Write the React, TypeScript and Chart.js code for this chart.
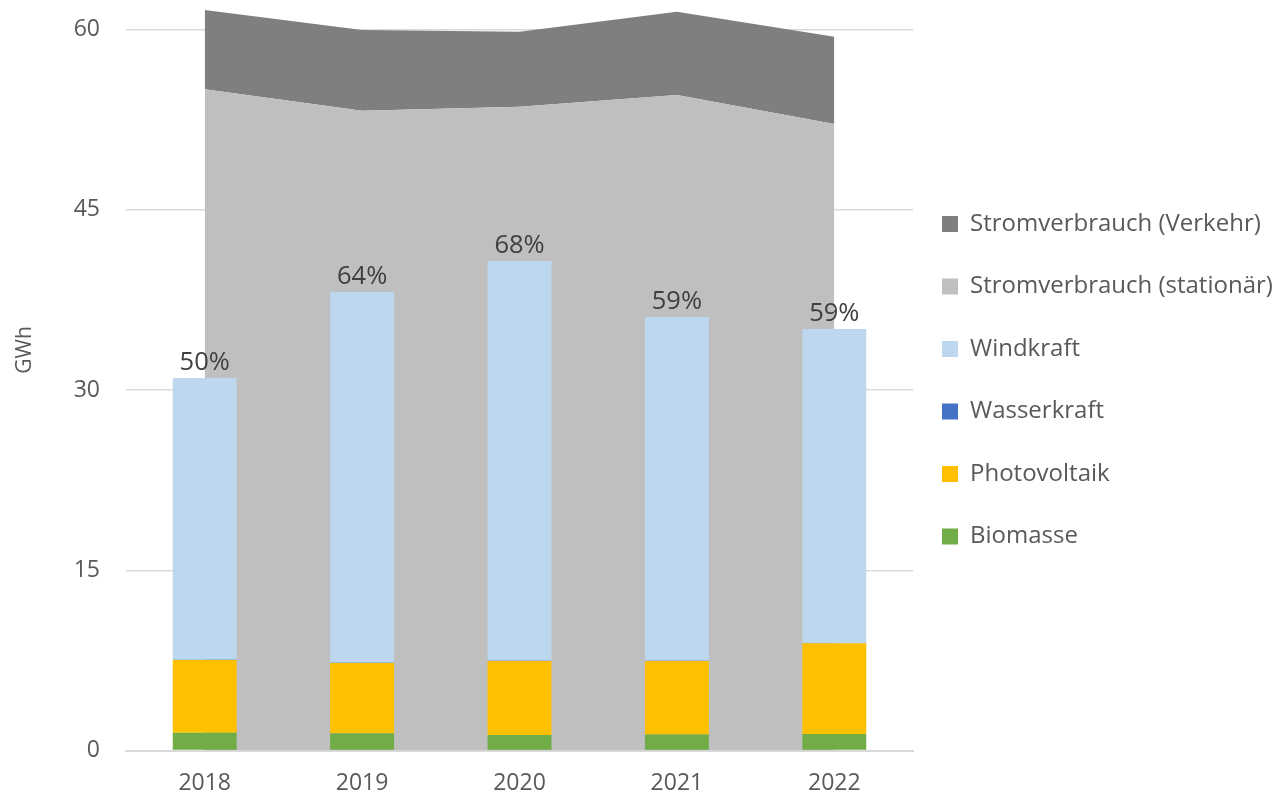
import React, { useEffect, useRef } from "react";
import { Chart, registerables } from "chart.js";

Chart.register(...registerables);

const years = ["2018", "2019", "2020", "2021", "2022"];
const biomasse = [1.48, 1.43, 1.29, 1.33, 1.37];
const photovoltaik = [6.05, 5.85, 6.16, 6.12, 7.55];
const wasserkraft = [0.02, 0.02, 0.02, 0.02, 0.02];
const windkraft = [23.46, 30.87, 33.28, 28.61, 26.15];
const verbrauchStationaer = [55.04, 53.26, 53.59, 54.57, 52.15];
const verbrauchVerkehr = [6.6, 6.72, 6.25, 6.93, 7.27];
const anteilLabels = ["50%", "64%", "68%", "59%", "59%"];
const yTicks = [0, 15, 30, 45, 60];
const yTitle = "GWh";

const FONT = "'Open Sans', 'Noto Sans', sans-serif";

const percentPlugin = {
  id: "percentLabels",
  afterDatasetsDraw(chart: any) {
    const meta = chart.getDatasetMeta(3);
    const ctx = chart.ctx;
    ctx.save();
    ctx.font = `25.5px ${FONT}`;
    ctx.fillStyle = "#404040";
    ctx.textAlign = "center";
    ctx.textBaseline = "alphabetic";
    meta.data.forEach((bar: any, i: number) => {
      ctx.fillText(anteilLabels[i], bar.x, bar.y - 8);
    });
    ctx.restore();
  },
};

const yTitlePlugin = {
  id: "yTitle",
  afterDraw(chart: any) {
    const ctx = chart.ctx;
    ctx.save();
    ctx.translate(25.5, 350);
    ctx.rotate(-Math.PI / 2);
    ctx.font = `21px ${FONT}`;
    ctx.fillStyle = "#595959";
    ctx.textAlign = "center";
    ctx.textBaseline = "middle";
    ctx.fillText(yTitle, 0, 0);
    ctx.restore();
  },
};

export default function App() {
  const ref = useRef<HTMLCanvasElement>(null);

  useEffect(() => {
    document.body.style.margin = "0";
    const canvas = ref.current!;
    const chart = new Chart(canvas, {
      type: "bar",
      data: {
        labels: years,
        datasets: [
          { type: "bar", label: "Biomasse", data: biomasse, backgroundColor: "#70ad47", stack: "bars", order: 1 },
          { type: "bar", label: "Photovoltaik", data: photovoltaik, backgroundColor: "#ffc000", stack: "bars", order: 1 },
          { type: "bar", label: "Wasserkraft", data: wasserkraft, backgroundColor: "#4472c4", stack: "bars", order: 1 },
          { type: "bar", label: "Windkraft", data: windkraft, backgroundColor: "#bdd7ee", stack: "bars", order: 1 },
          {
            type: "line",
            label: "Stromverbrauch (stationär)",
            data: verbrauchStationaer,
            backgroundColor: "#bfbfbf",
            borderColor: "#bfbfbf",
            borderWidth: 0,
            pointRadius: 0,
            fill: "origin",
            stack: "area",
            order: 2,
            tension: 0,
          },
          {
            type: "line",
            label: "Stromverbrauch (Verkehr)",
            data: verbrauchVerkehr,
            backgroundColor: "#7f7f7f",
            borderColor: "#7f7f7f",
            borderWidth: 0,
            pointRadius: 0,
            fill: "-1",
            stack: "area",
            order: 2,
            tension: 0,
          },
        ] as any,
      },
      options: {
        animation: false,
        responsive: true,
        maintainAspectRatio: false,
        layout: { padding: { top: 5.7, left: 0, right: 0, bottom: 0 } },
        datasets: { bar: { barPercentage: 0.406, categoryPercentage: 1 } } as any,
        scales: {
          x: {
            stacked: true,
            offset: true,
            grid: { display: false, drawTicks: false },
            border: { display: true, color: "#d9d9d9", width: 2 },
            ticks: { font: { family: FONT, size: 23 }, color: "#595959", padding: 19 },
            afterFit: (s: any) => {
              s.height = 46.5;
              s.paddingLeft = 0;
              s.paddingRight = 0;
            },
          },
          y: {
            stacked: true,
            min: 0,
            max: 62,
            grid: { color: "#d9d9d9", lineWidth: 1.5, drawTicks: false },
            border: { display: false },
            ticks: { font: { family: FONT, size: 23 }, color: "#595959", padding: 26 },
            afterBuildTicks: (axis: any) => {
              axis.ticks = yTicks.map((v) => ({ value: v }));
            },
            afterFit: (s: any) => {
              s.width = 126;
              s.paddingTop = 0;
              s.paddingBottom = 0;
            },
          },
        },
        plugins: {
          tooltip: { enabled: false },
          legend: {
            position: "right",
            align: "start",
            reverse: true,
            maxWidth: 363,
            title: {
              display: true,
              text: " ",
              font: { size: 10, lineHeight: 1 },
              padding: { top: 167.3, bottom: 0 },
            },
            labels: {
              boxWidth: 16,
              boxHeight: 16,
              padding: 29,
              color: "#595959",
              font: { family: FONT, size: 24, lineHeight: 1.396 },
              generateLabels: (c: any) => {
                const items = Chart.defaults.plugins.legend.labels.generateLabels(c);
                return items.map((it: any) => ({
                  ...it,
                  text: [it.text],
                  lineWidth: 0,
                  strokeStyle: "rgba(0,0,0,0)",
                }));
              },
            },
          },
        },
      },
      plugins: [percentPlugin, yTitlePlugin],
    });
    return () => chart.destroy();
  }, []);

  return (
    <div style={{ position: "absolute", left: 0, top: 0, width: 1276, height: 797 }}>
      <canvas ref={ref} />
    </div>
  );
}
